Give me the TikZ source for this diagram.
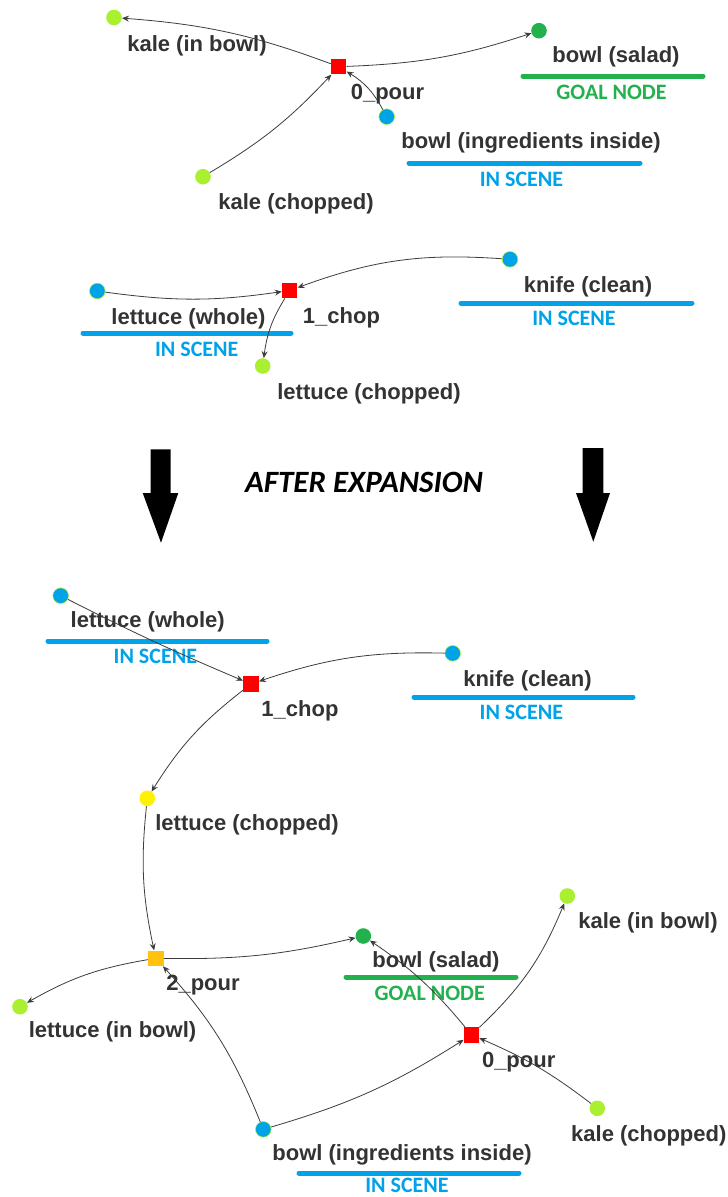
\documentclass[tikz,border=0pt]{standalone}
\usepackage{fontspec}
\setmainfont{Liberation Sans}
\newfontfamily\tagfont{Carlito}
\usetikzlibrary{arrows.meta}

\definecolor{limefill}{RGB}{170,240,48}
\definecolor{scenefill}{RGB}{0,162,232}
\definecolor{goalfill}{RGB}{34,177,76}
\definecolor{actred}{RGB}{255,0,0}
\definecolor{pouryellow}{RGB}{255,194,14}
\definecolor{chopyellow}{RGB}{255,242,0}
\definecolor{txtgray}{RGB}{51,51,51}
\definecolor{edgegray}{RGB}{60,60,60}

\tikzset{
  dot/.style={circle, inner sep=0pt, minimum size=15.6pt},
  limedot/.style={dot, fill=limefill},
  scenedot/.style={dot, fill=scenefill, draw=limefill, line width=0.5pt},
  goaldot/.style={dot, fill=goalfill},
  chopdot/.style={dot, fill=chopyellow},
  act/.style={rectangle, inner sep=0pt, minimum size=15.5pt},
  redact/.style={act, fill=actred},
  pouract/.style={act, fill=pouryellow},
  lbl/.style={anchor=base, inner sep=0pt, text=txtgray,
    font=\fontsize{22}{26}\selectfont\bfseries},
  tag/.style={anchor=base, inner sep=0pt,
    font=\tagfont\fontsize{22}{26}\selectfont\bfseries},
  scenetag/.style={tag, text=scenefill},
  goaltag/.style={tag, text=goalfill},
  bar/.style={line width=5pt, line cap=round},
  flow/.style={draw=edgegray, line width=0.8pt,
    -{Stealth[length=7pt, width=6pt, inset=2.5pt]}},
  bigarrow/.style={fill=black},
}

\begin{document}
\begin{tikzpicture}[x=1pt, y=-1pt]
\useasboundingbox[fill=white] (0,0) rectangle (728,1197);

% ---------- first plan step: 0_pour ----------
\node[limedot] (kib1) at (114,17.5) {};
\node[redact]  (pour1) at (338.7,66.7) {};
\node[goaldot] (sal1) at (539,30.7) {};
\node[scenedot] (ing1) at (386.7,116.7) {};
\node[limedot] (kch1) at (203,176.7) {};

\node[lbl] (kib1t) at (197,51) {kale (in bowl)};
\node[lbl] (pour1t) at (387.5,99) {0\_pour};
\node[lbl] (sal1t) at (616,62.7) {bowl (salad)};
\node[goaltag] (sal1g) at (611.5,99.3) {GOAL NODE};
\node[lbl] (ing1t) at (531,148.3) {bowl (ingredients inside)};
\node[scenetag] (ing1s) at (521.5,186) {IN SCENE};
\node[lbl] (kch1t) at (296,209) {kale (chopped)};
\draw[bar, goalfill] (523,76) -- (703,76);
\draw[bar, scenefill] (409,163) -- (640,163);

\draw[flow] (pour1) to[bend right=8] (kib1);
\draw[flow] (pour1) to[bend right=8] (sal1);
\draw[flow] (kch1) to[bend right=8] (pour1);
\draw[flow] (ing1) to[bend right=15] (pour1);

% ---------- second plan step: 1_chop ----------
\node[scenedot] (lw2) at (97.3,291) {};
\node[redact]  (chop2) at (289.7,290.5) {};
\node[limedot] (lch2) at (262.7,366) {};
\node[scenedot] (kn2) at (510,259.3) {};

\node[lbl] (lw2t) at (188.5,324) {lettuce (whole)};
\node[scenetag] (lw2s) at (196.7,356) {IN SCENE};
\node[lbl] (chop2t) at (341.5,323.5) {1\_chop};
\node[lbl] (lch2t) at (369,399) {lettuce (chopped)};
\node[lbl] (kn2t) at (588,292.5) {knife (clean)};
\node[scenetag] (kn2s) at (574,325) {IN SCENE};
\draw[bar, scenefill] (83,333) -- (291,333);
\draw[bar, scenefill] (461,303) -- (692,303);

\draw[flow] (lw2) to[bend right=8] (chop2);
\draw[flow] (kn2) to[bend right=12] (chop2);
\draw[flow] (chop2) to[bend right=12] (lch2);

% ---------- transition ----------
\fill[bigarrow] (150.7,449.3) -- (170.7,449.3) -- (170.7,493) -- (178.3,493)
  -- (161,542.7) -- (142.7,493) -- (150.7,493) -- cycle;
\fill[bigarrow] (582.7,448) -- (603.3,448) -- (603.3,493) -- (610,493)
  -- (593.3,541.7) -- (576,493) -- (582.7,493) -- cycle;
\node[anchor=base, inner sep=0pt, font=\tagfont\fontsize{31}{36}\selectfont\bfseries\itshape]
  (after) at (364,492) {AFTER EXPANSION};

% ---------- expanded plan ----------
\node[scenedot] (lw) at (60.7,595.7) {};
\node[redact]  (chop) at (251,684) {};
\node[scenedot] (kn) at (452.7,653.3) {};
\node[chopdot] (lch) at (147.3,798.3) {};
\node[pouract] (pour2) at (155.8,958.3) {};
\node[limedot] (lib) at (20,1006.7) {};
\node[goaldot] (sal) at (363.3,936) {};
\node[redact]  (pour0) at (471.5,1034.8) {};
\node[limedot] (kib) at (567.3,896) {};
\node[limedot] (kch) at (597.3,1108.3) {};
\node[scenedot] (ing) at (263.3,1129.3) {};

\node[lbl] (lwt) at (147.7,627) {lettuce (whole)};
\node[scenetag] (lws) at (155.3,663) {IN SCENE};
\node[lbl] (chopt) at (300,716) {1\_chop};
\node[lbl] (knt) at (527.5,686) {knife (clean)};
\node[scenetag] (kns) at (521.3,719) {IN SCENE};
\node[lbl] (lcht) at (247,830) {lettuce (chopped)};
\node[lbl] (pour2t) at (203,990) {2\_pour};
\node[lbl] (libt) at (112.5,1037) {lettuce (in bowl)};
\node[lbl] (salt) at (436,967.5) {bowl (salad)};
\node[goaltag] (salg) at (429.7,1000) {GOAL NODE};
\node[lbl] (pour0t) at (518.7,1067) {0\_pour};
\node[lbl] (kibt) at (648,928) {kale (in bowl)};
\node[lbl] (kcht) at (648.8,1141) {kale (chopped)};
\node[lbl] (ingt) at (402,1160) {bowl (ingredients inside)};
\node[scenetag] (ings) at (407,1192.5) {IN SCENE};
\draw[bar, scenefill] (48,641) -- (267,641);
\draw[bar, scenefill] (414,697) -- (633,697);
\draw[bar, goalfill] (346,977) -- (516,977);
\draw[bar, scenefill] (299,1173) -- (519,1173);

\draw[flow] (lw) to[bend right=2] (chop);
\draw[flow] (kn) to[bend right=10] (chop);
\draw[flow] (chop) to[bend right=10] (lch);
\draw[flow] (lch) to[bend right=9] (pour2);
\draw[flow] (pour2) to[bend right=10] (lib);
\draw[flow] (pour2) to[bend right=7] (sal);
\draw[flow] (ing) to[bend right=10] (pour2);
\draw[flow] (ing) to[bend right=8] (pour0);
\draw[flow] (pour0) to[bend right=8] (sal);
\draw[flow] (pour0) to[bend right=12] (kib);
\draw[flow] (kch) to[bend right=7] (pour0);
\end{tikzpicture}
\end{document}
